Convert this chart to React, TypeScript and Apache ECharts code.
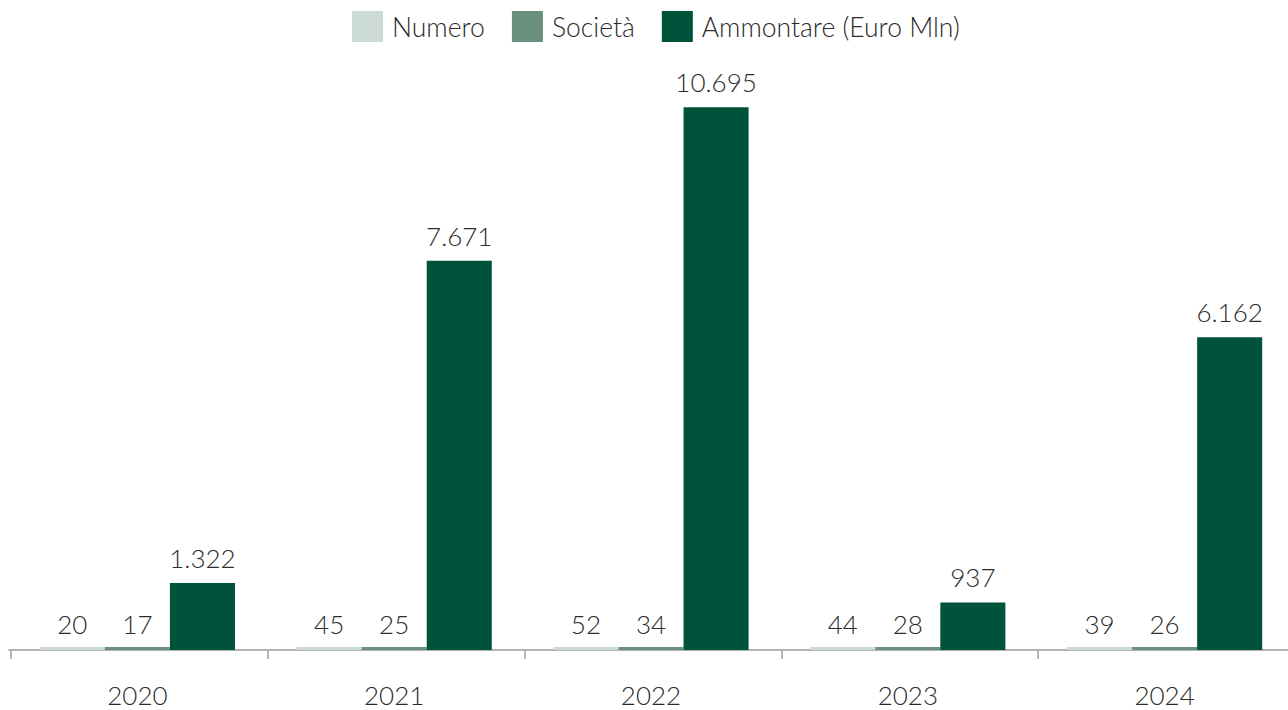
import React, { useEffect, useRef } from "react";
import * as echarts from "echarts";

const years = ["2020", "2021", "2022", "2023", "2024"];
const numero = [20, 45, 52, 44, 39];
const societa = [17, 25, 34, 28, 26];
const ammontare = [1322, 7671, 10695, 937, 6162];

const seriesNames = ["Numero", "Società", "Ammontare (Euro Mln)"];
const colors = ["#ccdbd3", "#6a917d", "#00533b"];

const FONT = "Lato, 'Noto Sans', sans-serif";

const fmt = (v: number) => {
  const s = String(Math.round(v));
  return s.replace(/\B(?=(\d{3})+(?!\d))/g, ".");
};

export default function App() {
  const ref = useRef<HTMLDivElement>(null);
  useEffect(() => {
    if (!ref.current) return;
    const chart = echarts.init(ref.current, undefined, { renderer: "svg" });
    const makeLabel = (distance: number) => ({
      show: true,
      position: "top" as const,
      distance,
      color: "#2b2b2b",
      fontFamily: FONT,
      fontWeight: 300,
      fontSize: 26,
      formatter: (p: any) => fmt(p.value),
    });
    const datas = [numero, societa, ammontare];
    const distances = [10, 10, 12];
    chart.setOption({
      animation: false,
      color: colors,
      legend: {
        top: 11,
        left: 352,
        padding: 0,
        itemWidth: 31,
        itemHeight: 31,
        itemGap: 27,
        icon: "rect",
        textStyle: {
          fontFamily: FONT,
          fontWeight: 300,
          fontSize: 26.5,
          color: "#2b2b2b",
          padding: [0, 0, 0, 4],
        },
        data: seriesNames,
      },
      grid: [
        { left: 9, width: 1284, top: 41, bottom: 60 },
        { left: 11, width: 1284, top: 41, bottom: 60 },
      ],
      xAxis: [
        {
          type: "category",
          gridIndex: 0,
          data: years,
          axisLine: { show: true, lineStyle: { color: "#b3b3b3", width: 2 } },
          axisTick: { show: false },
          axisLabel: {
            margin: 32,
            color: "#2b2b2b",
            fontFamily: FONT,
            fontWeight: 300,
            fontSize: 26,
          },
        },
        {
          type: "category",
          gridIndex: 1,
          data: years,
          axisLine: { show: true, lineStyle: { color: "#b3b3b3", width: 2 } },
          axisTick: { show: true, length: 9, lineStyle: { color: "#b3b3b3", width: 2 } },
          axisLabel: { show: false },
        },
      ],
      yAxis: [
        {
          type: "value",
          gridIndex: 0,
          min: 0,
          max: 12000,
          show: false,
          splitLine: { show: false },
        },
        {
          type: "value",
          gridIndex: 1,
          min: 0,
          max: 12000,
          show: false,
          splitLine: { show: false },
        },
      ],
      series: seriesNames.map((name, i) => ({
        name,
        type: "bar",
        xAxisIndex: 0,
        yAxisIndex: 0,
        data: datas[i],
        barGap: "0%",
        barCategoryGap: "24%",
        barMinHeight: 3,
        z: 3,
        itemStyle: { color: colors[i] },
        label: makeLabel(distances[i]),
      })),
    });
    return () => chart.dispose();
  }, []);
  return (
    <div
      style={{
        position: "absolute",
        left: 0,
        top: 0,
        width: 1288,
        height: 710,
        overflow: "hidden",
        background: "#ffffff",
      }}
    >
      <div ref={ref} style={{ width: 1300, height: 710 }} />
    </div>
  );
}
